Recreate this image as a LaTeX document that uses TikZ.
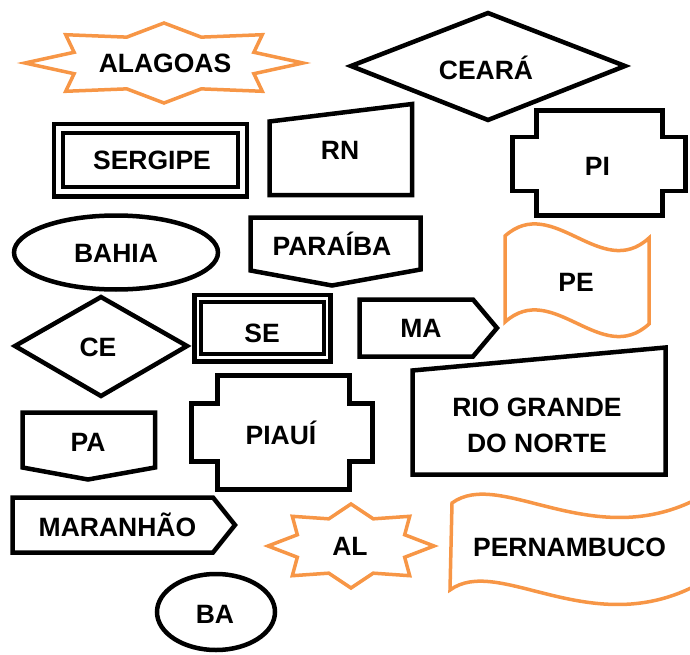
\documentclass[tikz,border=0pt]{standalone}
\usepackage{fontspec}
\setmainfont{Liberation Sans}

\definecolor{stateOrange}{RGB}{247,150,70}

\tikzset{%
  % Specifications for style of shapes:
        base/.style = {draw=black, line width=4.5pt, fill=white, line join=miter},
      orange/.style = {base, draw=stateOrange, line width=3.5pt},
  % Specifications for style of texts:
       lines/.style = {font=\bfseries\fontsize{26.5}{36}\selectfont,
                       inner sep=0pt, align=center},
       state/.style = {lines, text height=19pt, text depth=0pt},
}

\begin{document}
\begin{tikzpicture}[x=1pt, y=-1pt]
\useasboundingbox (0,0) rectangle (690,655);

% stars
\draw[orange] (303,63) \foreach \i in {1,...,15}
  { -- ({164+139*cos(\i*22.5)*ifthenelse(isodd(\i),0.7,1)},
        {63+40*sin(\i*22.5)*ifthenelse(isodd(\i),0.7,1)}) } -- cycle;
\draw[orange] (434,546) \foreach \i in {1,...,15}
  { -- ({351+83*cos(\i*22.5)*ifthenelse(isodd(\i),0.7,1)},
        {546+42*sin(\i*22.5)*ifthenelse(isodd(\i),0.7,1)}) } -- cycle;

% diamonds
\draw[base] (351,66) -- (488,13) -- (625,66) -- (488,120) -- cycle;
\draw[base] (15,346) -- (101,297) -- (187,346) -- (101,396) -- cycle;

% double frames
\draw[base] (54,124) rectangle (247,196.5);
\draw[base] (63,133) rectangle (238,187);
\draw[base] (194.5,295) rectangle (330.5,361.5);
\draw[base, line width=3.5pt] (201,302) rectangle (324,354);

% manual inputs
\draw[base] (269.5,121.5) -- (412,104) -- (412,195) -- (269.5,195) -- cycle;
\draw[base] (412.5,370.5) -- (665.5,347.5) -- (665.5,474.5) -- (412.5,474.5) -- cycle;

% plaques
\draw[base] (536.5,110.5) -- (662.5,110.5) -- (662.5,137) -- (685.5,137)
  -- (685.5,191) -- (662.5,191) -- (662.5,215.5) -- (536.5,215.5)
  -- (536.5,191) -- (512.5,191) -- (512.5,137) -- (536.5,137) -- cycle;
\draw[base] (217.5,375.5) -- (349.5,375.5) -- (349.5,403.5) -- (372.5,403.5)
  -- (372.5,461.5) -- (349.5,461.5) -- (349.5,489.5) -- (217.5,489.5)
  -- (217.5,461.5) -- (191.5,461.5) -- (191.5,403.5) -- (217.5,403.5) -- cycle;

% ellipses
\draw[base] (116,252.5) ellipse [x radius=102, y radius=37];
\draw[base] (216,612) ellipse [x radius=59, y radius=38];

% off-page connectors
\draw[base] (250.5,217.5) -- (420.5,217.5) -- (420.5,269.5) -- (332,285.5)
  -- (250.5,270.5) -- cycle;
\draw[base] (22.5,412.5) -- (155,412.5) -- (155,467.5) -- (88,479.5)
  -- (22.5,467.5) -- cycle;

% pentagons
\draw[base] (359.5,299.5) -- (473,299.5) -- (497,328) -- (473,356.5)
  -- (359.5,356.5) -- cycle;
\draw[base] (12.5,497.5) -- (213,497.5) -- (235,525) -- (213,552.5)
  -- (12.5,552.5) -- cycle;

% waves
\draw[orange] (505,236) .. controls (553,193) and (601,282) .. (649,238)
  -- (649,324) .. controls (601,368) and (553,279) .. (505,322) -- cycle;
\draw[orange] (452,503) .. controls (500,468) and (590,552) .. (695,500)
  -- (693,587) .. controls (588,639) and (498,555) .. (450,590) -- cycle;

% texts
\node[state] (Alagoas)    at (165,63.5)  {ALAGOAS};
\node[state] (Ceara)      at (486,70)    {CEARÁ};
\node[state] (Sergipe)    at (152,160)   {SERGIPE};
\node[state] (RN)         at (340,150)   {RN};
\node[state] (PI)         at (597.5,166) {PI};
\node[state] (Bahia)      at (116,253)   {BAHIA};
\node[state] (Paraiba)    at (332,246)   {PARAÍBA};
\node[state] (PE)         at (576,282)   {PE};
\node[state] (CE)         at (98,347)    {CE};
\node[state] (SE)         at (262,332.5) {SE};
\node[state] (MA)         at (421,328)   {MA};
\node[lines] (RGN)        at (537,425)   {RIO GRANDE\\DO NORTE};
\node[state] (PA)         at (88,442)    {PA};
\node[state] (Piaui)      at (281,435)   {PIAUÍ};
\node[state] (Maranhao)   at (117.5,527) {MARANHÃO};
\node[state] (AL)         at (350,546)   {AL};
\node[state] (Pernambuco) at (569.5,547) {PERNAMBUCO};
\node[state] (BA)         at (215,614)   {BA};
\end{tikzpicture}
\end{document}
